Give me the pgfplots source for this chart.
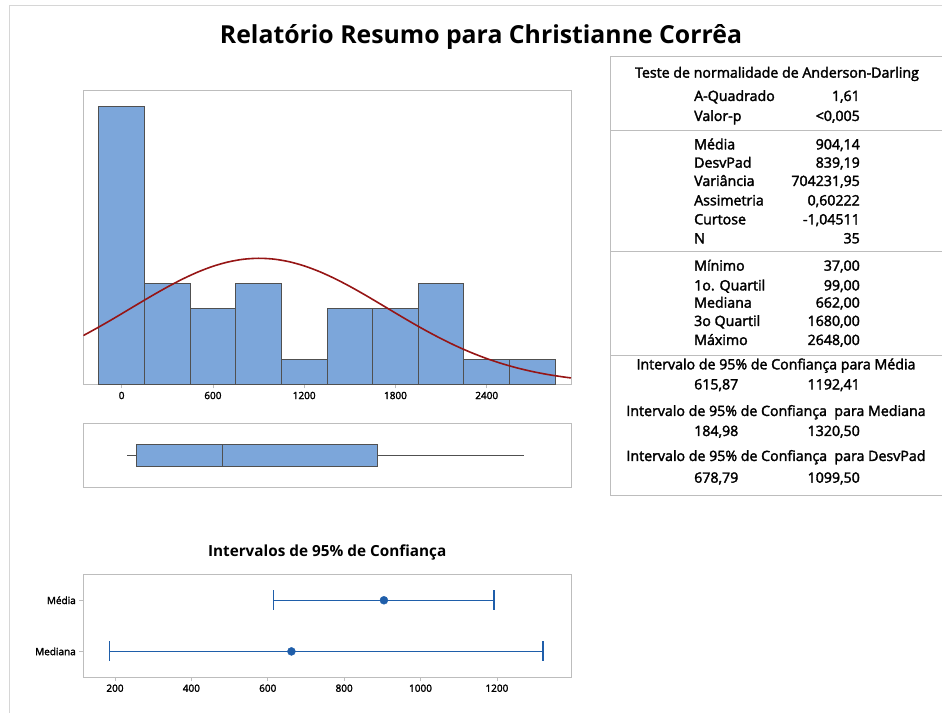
\documentclass[border=0pt]{standalone}
\usepackage{pgfplots}
\pgfplotsset{compat=1.18}
\usepackage{fontspec}
\setmainfont{Open Sans}
\newfontfamily\semib[FakeBold=2.2]{Open Sans}
\definecolor{barfill}{HTML}{7CA6DA}
\definecolor{baredge}{HTML}{505050}
\definecolor{curvered}{HTML}{961515}
\definecolor{ciblue}{HTML}{1F5EAA}
\definecolor{framegray}{HTML}{BDBDBD}
\definecolor{outergray}{HTML}{D6D6D6}
\newcommand\tabfont{\semib\fontsize{14.2}{16}\selectfont}
\pgfplotsset{
  panel/.style={
    scale only axis, anchor=south west,
    axis line style={framegray, line width=0.8pt},
    tick style={framegray, line width=0.8pt},
    tick align=outside, major tick length=4pt,
    xtick pos=bottom, ytick pos=left,
    /pgf/number format/assume math mode=true,
    /pgf/number format/1000 sep={},
    xticklabel style={font=\semib\fontsize{10}{12}\selectfont},
    yticklabel style={font=\semib\fontsize{10}{12}\selectfont},
  }
}
\begin{document}
\begin{tikzpicture}[x=1pt,y=1pt]
\useasboundingbox (0,0) rectangle (942,712);
\draw[outergray, line width=1pt] (9,-5) -- (9,706) -- (960,706);
\node[font=\fontsize{24.8}{28}\selectfont\bfseries] at (481,675) {Relatório Resumo para Christianne Corrêa};

% histogram
\begin{axis}[panel, at={(83.3pt,327.7pt)}, width=487.7pt, height=294.3pt,
  xmin=-252, xmax=2954, ymin=0, ymax=11.66,
  ytick=\empty, xtick={0,600,1200,1800,2400}]
\addplot[ybar interval, fill=barfill, draw=baredge, line width=0.9pt] coordinates {
 (-150,11) (150,4) (450,3) (750,4) (1050,1) (1350,3) (1650,3) (1950,4) (2250,1) (2550,1) (2850,1)};
\addplot[curvered, line width=1.6pt, smooth] coordinates {
 (-252,1.932) (-200,2.101) (-100,2.440) (0,2.794) (100,3.155) (200,3.511) (300,3.852)
 (400,4.168) (500,4.445) (600,4.675) (700,4.846) (800,4.954) (900,4.992) (1000,4.960)
 (1100,4.858) (1200,4.691) (1300,4.466) (1400,4.192) (1500,3.880) (1600,3.540)
 (1700,3.184) (1800,2.824) (1900,2.469) (2000,2.128) (2100,1.809) (2200,1.515)
 (2300,1.252) (2400,1.019) (2500,0.819) (2600,0.648) (2700,0.506) (2800,0.389)
 (2900,0.295) (2954,0.253)};
\end{axis}

% boxplot
\begin{axis}[panel, at={(83.3pt,224.3pt)}, width=487.7pt, height=64.4pt,
  xmin=-252, xmax=2954, ymin=0, ymax=1, xtick=\empty, ytick=\empty]
\addplot[baredge, line width=0.6pt] coordinates {(37,0.503) (99,0.503)};
\addplot[baredge, line width=0.6pt] coordinates {(1680,0.503) (2648,0.503)};
\addplot[fill=barfill, draw=baredge, line width=0.9pt] coordinates {(99,0.326) (1680,0.326) (1680,0.679) (99,0.679)} -- cycle;
\addplot[baredge, line width=0.9pt] coordinates {(662,0.326) (662,0.679)};
\end{axis}

% confidence intervals
\begin{axis}[panel, at={(83.3pt,35pt)}, width=487.7pt, height=102.3pt,
  xmin=117, xmax=1394, ymin=0.5, ymax=2.5,
  xtick={200,400,600,800,1000,1200}, ytick={1,2}, yticklabels={Mediana,Média},
  title={Intervalos de 95\% de Confiança},
  title style={font=\bfseries\fontsize{15.3}{18}\selectfont, at={(0.5,1)}, anchor=mid, yshift=15pt}]
\addplot[ciblue, line width=1.2pt, mark=|, mark size=10pt, mark options={line width=1.2pt}] coordinates {(615.87,2) (1192.41,2)};
\addplot[ciblue, line width=1.2pt, mark=|, mark size=10pt, mark options={line width=1.2pt}] coordinates {(184.98,1) (1320.50,1)};
\addplot[only marks, mark=*, mark size=4pt, ciblue] coordinates {(904.14,2) (662,1)};
\end{axis}

% table
\draw[framegray, line width=0.8pt] (960,655.3) -- (610,655.3) -- (610,217) -- (960,217);
\draw[framegray, line width=0.8pt] (610,582) -- (960,582);
\draw[framegray, line width=0.8pt] (610,460.3) -- (960,460.3);
\draw[framegray, line width=0.8pt] (610,357) -- (960,357);
\begin{scope}[every node/.style={font=\tabfont, inner sep=0pt}]
\node[anchor=mid] at (777,637) {Teste de normalidade de Anderson-Darling};
\foreach \lab/\val/\y in {A-Quadrado/{1,61}/613.7, Valor-p/{<0,005}/593.7,
  Média/{904,14}/565.3, DesvPad/{839,19}/547, Variância/{704231,95}/528.7,
  Assimetria/{0,60222}/509.3, Curtose/{-1,04511}/490.3, N/35/471.3,
  Mínimo/{37,00}/444, 1o. Quartil/{99,00}/424.3, Mediana/{662,00}/407,
  3o Quartil/{1680,00}/388.7, Máximo/{2648,00}/369.7}{
  \node[anchor=mid west] at (694,\y) {\lab};
  \node[anchor=mid east] at (860,\y) {\val};
}
\node[anchor=mid] at (776,345.3) {Intervalo de 95\% de Confiança para Média};
\node[anchor=mid west] at (694,325.3) {615,87};
\node[anchor=mid east] at (860,325.3) {1192,41};
\node[anchor=mid] at (776,298.7) {Intervalo de 95\% de Confiança \ para Mediana};
\node[anchor=mid west] at (694,278.7) {184,98};
\node[anchor=mid east] at (860,278.7) {1320,50};
\node[anchor=mid] at (776,253.7) {Intervalo de 95\% de Confiança \ para DesvPad};
\node[anchor=mid west] at (694,232) {678,79};
\node[anchor=mid east] at (860,232) {1099,50};
\end{scope}
\end{tikzpicture}
\end{document}
